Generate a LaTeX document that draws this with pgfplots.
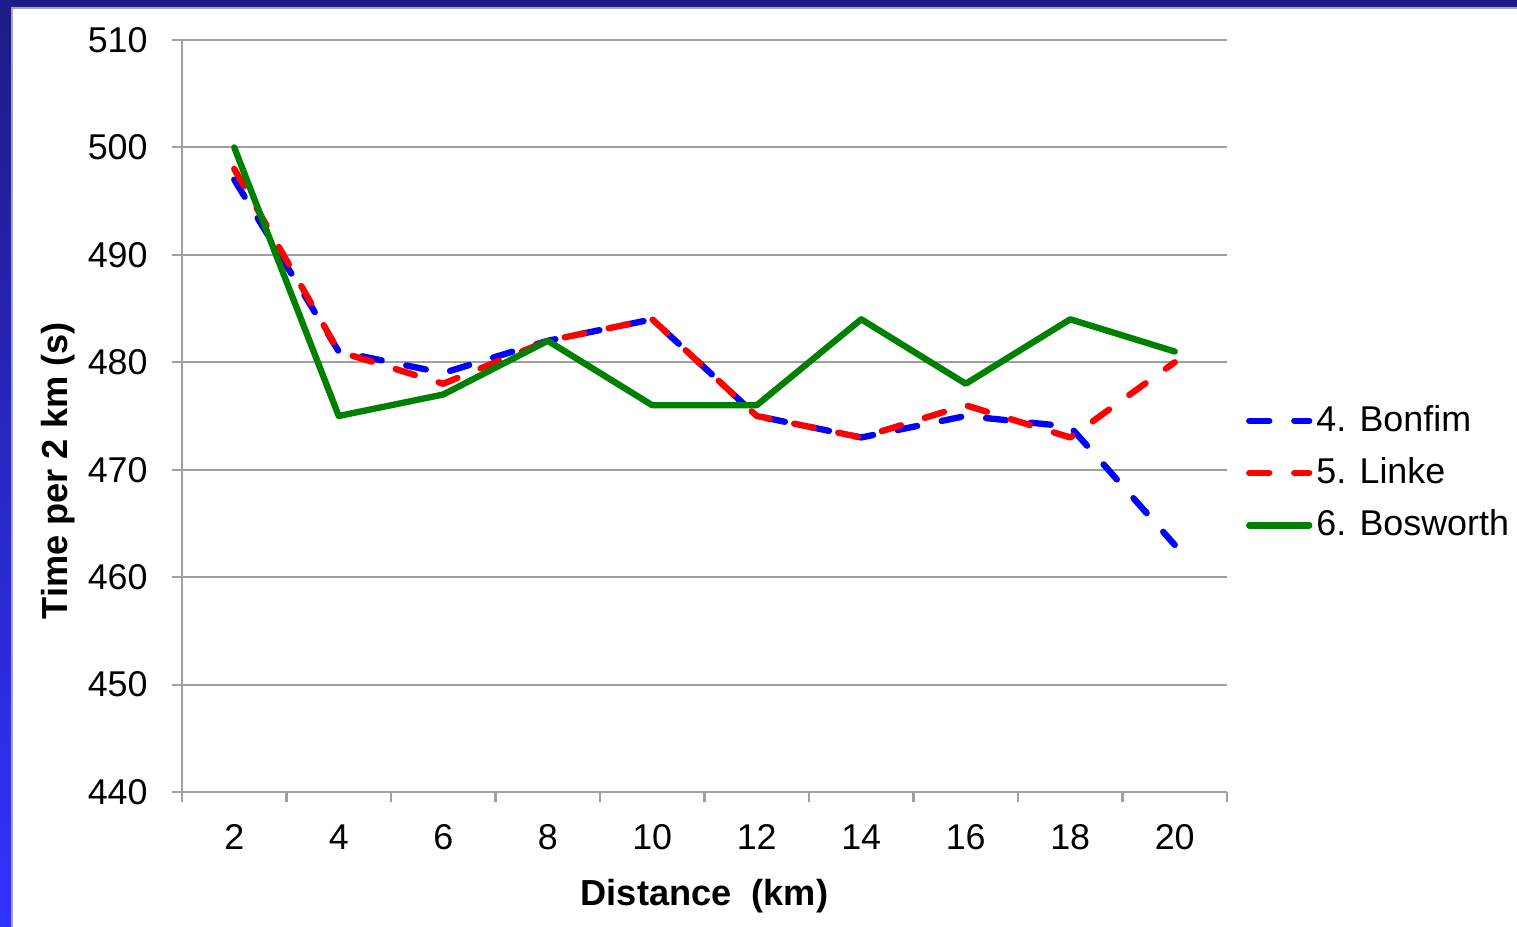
\documentclass[border=0pt]{standalone}
\usepackage{fontspec}
\setmainfont{Liberation Sans}
\usepackage{pgfplots}
\pgfplotsset{compat=1.18}
\definecolor{slidenavy}{RGB}{30,28,135}
\definecolor{slideblue}{RGB}{50,50,255}
\definecolor{gridgray}{RGB}{160,160,160}
\definecolor{xlgreen}{RGB}{0,128,0}
\pgfplotsset{
  dashline/.style={line width=1.8pt, line cap=round, line join=round,
                   dash pattern=on 2.0mm off 2.5mm},
}
\begin{document}
\begin{tikzpicture}
\useasboundingbox (0,0) rectangle (15.17,9.27);
% slide background
\fill[slidenavy] (0,0) rectangle (15.17,9.27);
\shade[top color=slidenavy, bottom color=slideblue] (0,0) rectangle (0.11,9.2);
\fill[white] (0.11,0) rectangle (15.17,9.20);
\draw[gray!70, line width=0.5pt] (0.12,0) -- (0.12,9.19) -- (15.17,9.19);
\begin{axis}[
  at={(1.82cm,1.35cm)}, anchor=south west,
  scale only axis, width=10.45cm, height=7.52cm,
  xmin=0.5, xmax=10.5, ymin=440, ymax=510,
  xtick={1,...,10}, xticklabels={2,4,6,8,10,12,14,16,18,20},
  minor xtick={0.5,1.5,...,10.5},
  ytick={440,450,...,510},
  axis x line*=bottom, axis y line*=left,
  axis line style={-, gridgray, line width=0.6pt},
  ymajorgrids=true, grid style={gridgray, line width=0.6pt},
  tick align=outside, major tick length=1mm, minor tick length=1mm,
  tick style={gridgray, line width=0.6pt},
  major x tick style={draw=none},
  tick label style={font=\fontsize{10.2}{12}\selectfont, black},
  yticklabel style={/pgf/number format/assume math mode=true, xshift=-1.2mm},
  xticklabel style={yshift=-1mm},
  xlabel={Distance\ \ (km)},
  ylabel={Time per 2 km (s)},
  label style={font=\fontsize{10.3}{12}\selectfont\bfseries},
  xlabel style={at={(axis description cs:0.5,-0.139)}, anchor=center},
  ylabel style={at={(axis description cs:-0.119,0.427)}, anchor=center},
  legend style={at={(axis description cs:1.0075,0.424)}, anchor=west,
    draw=none, fill=none, font=\fontsize{10.2}{12}\selectfont, row sep=1.3mm,
    nodes={inner sep=0.4mm}},
  legend cell align=left,
  legend image code/.code={\draw[#1] (0mm,0mm) -- (6.0mm,0mm);},
]
\addplot[blue, dashline] coordinates {
  (1,497) (2,481) (3,479) (4,482) (5,484) (6,475) (7,473) (8,475) (9,474) (10,463)};
\addlegendentry{4. Bonfim}
\addplot[red, dashline] coordinates {
  (1,498) (2,481) (3,478) (4,482) (5,484) (6,475) (7,473) (8,476) (9,473) (10,480)};
\addlegendentry{5. Linke}
\addplot[xlgreen, line width=1.8pt, line join=round, line cap=round] coordinates {
  (1,500) (2,475) (3,477) (4,482) (5,476) (6,476) (7,484) (8,478) (9,484) (10,481)};
\addlegendentry{6. Bosworth}
\end{axis}
\end{tikzpicture}
\end{document}
